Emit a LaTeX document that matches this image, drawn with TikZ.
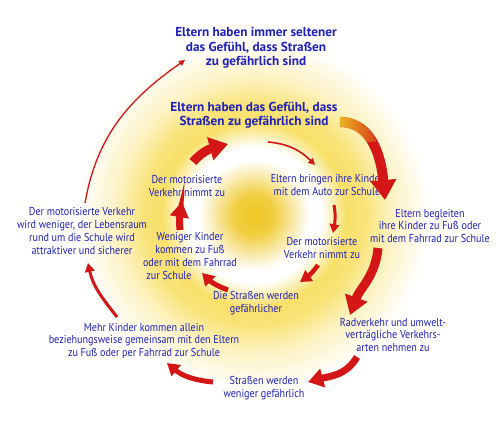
\documentclass[tikz,border=0pt]{standalone}
\usepackage{fontspec}
\setmainfont{PT Sans}[FakeStretch=0.88]
\newfontfamily\headfont{PT Sans}[FakeStretch=1.02]
\usetikzlibrary{arrows.meta,fadings}
\definecolor{txtblue}{RGB}{32,32,190}
\definecolor{arrred}{RGB}{212,22,22}
\definecolor{tailyel}{RGB}{238,192,36}
\definecolor{sunA}{RGB}{238,198,32}
\definecolor{sunB}{RGB}{248,224,104}
\pgfdeclareradialshading{sunglow}{\pgfpoint{0bp}{0bp}}{%
  color(0bp)=(sunA); color(2.3bp)=(sunA!85!white); color(4.4bp)=(sunA!40!white);
  color(6.3bp)=(white); color(7.7bp)=(white); color(10.5bp)=(sunB);
  color(12.5bp)=(sunB!90!white); color(15.5bp)=(sunB!42!white);
  color(20bp)=(white); color(50bp)=(white)}
\tikzfading[name=tailfade, left color=transparent!0, right color=transparent!100]
\begin{document}
\begin{tikzpicture}[x=1pt,y=1pt,
    every node/.style={text=txtblue, align=center, inner sep=1pt,
      font=\fontsize{11.5}{12.7}\selectfont},
    head/.style={font=\headfont\bfseries\fontsize{13}{14.6}\selectfont},
    flow/.style={draw=arrred, line width=#1, -{Triangle[length=4pt 1.6, width=3pt 2.2]}}]
  \useasboundingbox (0,0) rectangle (504,422);
  \fill[white] (0,0) rectangle (504,422);
  \begin{scope}
    \clip (0,0) rectangle (504,422);
    \shade[shading=sunglow] (254,207) circle (220);
  \end{scope}
  % outer ring
  \node[head] (top) at (256,374) {Eltern haben immer seltener\\das Gefühl, dass Straßen\\zu gefährlich sind};
  \node[head] (main) at (254,307) {Eltern haben das Gefühl, dass\\Straßen zu gefährlich sind};
  \node (begl) at (430,196) {Eltern begleiten\\ihre Kinder zu Fuß oder\\mit dem Fahrrad zur Schule};
  \node (rad) at (393,87) {Radverkehr und umwelt-\\verträgliche Verkehrs-\\arten nehmen zu};
  \node (wenGef) at (264,34) {Straßen werden\\weniger gefährlich};
  \node (mehr) at (144,81) {Mehr Kinder kommen allein\\beziehungsweise gemeinsam mit den Eltern\\zu Fuß oder per Fahrrad zur Schule};
  \node (lebens) at (82,191) {Der motorisierte Verkehr\\wird weniger, der Lebensraum\\rund um die Schule wird\\attraktiver und sicherer};
  % inner ring
  \node (auto) at (327,237) {Eltern bringen ihre Kinder\\mit dem Auto zur Schule};
  \node (motR) at (322,174) {Der motorisierte\\Verkehr nimmt zu};
  \node (gef) at (256,119) {Die Straßen werden\\gefährlicher};
  \node (wenig) at (190,166) {Weniger Kinder\\kommen zu Fuß\\oder mit dem Fahrrad\\zur Schule\hspace*{42pt}};
  \node (motL) at (187,236) {Der motorisierte\\Verkehr nimmt zu};
  \foreach \source/\sx/\sy/\dest/\dx/\dy/\outa/\ina/\lw in {
      main/86/-7/begl/-45/26/0/95/10, begl/-52/-22/rad/-43/20/-95/70/9,
      rad/-36/-22/wenGef/44/6/-120/15/7, wenGef/-51/6/mehr/23/-22/175/-40/5,
      mehr/-27/24/lebens/6/-32/128/-78/3, lebens/3/28/top/-71/-12/80/215/1.3,
      motL/6/24/main/-26/-29/50/195/9, main/14/-27/auto/-12/20/-5/135/1.6,
      auto/7/-20/motR/11/15/-80/80/3, motR/-4/-17/gef/44/21/-125/35/4.5,
      gef/-28/13/wenig/12/-17/160/-45/5, wenig/-10/26/motL/-5/-16/95/-100/7}
    \draw[flow=\lw pt] ([shift={(\sx,\sy)}]\source.center) to[out=\outa,in=\ina] ([shift={(\dx,\dy)}]\dest.center);
  % yellow tail of the first arrow
  \begin{scope}
    \clip (330,280) rectangle (376,312);
    \draw[tailyel, line width=10pt, path fading=tailfade]
      ([shift={(86,-7)}]main.center) to[out=0,in=95] ([shift={(-45,26)}]begl.center);
  \end{scope}
\end{tikzpicture}
\end{document}
